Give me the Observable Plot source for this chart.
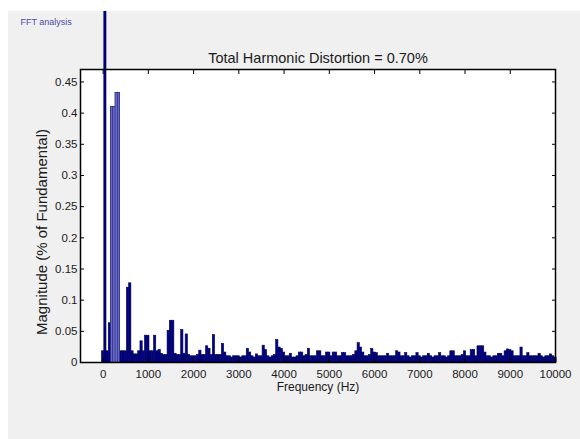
<!DOCTYPE html>
<html>
<head>
<meta charset="utf-8">
<script src="https://cdn.jsdelivr.net/npm/d3@7"></script>
<script src="https://cdn.jsdelivr.net/npm/@observablehq/plot@0.6"></script>
<style>
  html, body { margin: 0; padding: 0; background: #ffffff; }
  #chart { position: absolute; left: 8px; top: 11px; }
</style>
</head>
<body>
<div id="chart"></div>
<script>
// ---- data ----
const windowTitle = "FFT analysis";
const chartTitle = "Total Harmonic Distortion = 0.70%";
const xLabel = "Frequency (Hz)";
const yLabel = "Magnitude (% of Fundamental)";
const fundamentalHz = 50;   // FFT bin spacing = fundamental frequency
// magnitudes (% of fundamental) for bins 0 Hz, 50 Hz, 100 Hz ... 10000 Hz
const magRow0 = [0.018, 100, 0.018, 0.063, 0.41, 0.41, 0.432, 0.432, 0.018, 0.018, 0.018, 0.12, 0.127, 0.018, 0.013, 0.013, 0.018, 0.034, 0.018, 0.043];
const magRow1 = [0.043, 0.018, 0.018, 0.043, 0.018, 0.02, 0.014, 0.012, 0.012, 0.051, 0.067, 0.067, 0.014, 0.012, 0.012, 0.052, 0.014, 0.045, 0.012, 0.01];
const magRow2 = [0.01, 0.01, 0.012, 0.019, 0.012, 0.012, 0.026, 0.022, 0.012, 0.044, 0.012, 0.012, 0.012, 0.03, 0.016, 0.01, 0.01, 0.008, 0.01, 0.01];
const magRow3 = [0.01, 0.008, 0.01, 0.01, 0.022, 0.016, 0.01, 0.008, 0.013, 0.01, 0.01, 0.027, 0.02, 0.01, 0.008, 0.01, 0.012, 0.036, 0.024, 0.022];
const magRow4 = [0.016, 0.01, 0.01, 0.014, 0.008, 0.008, 0.01, 0.016, 0.016, 0.01, 0.012, 0.022, 0.01, 0.01, 0.01, 0.018, 0.018, 0.01, 0.01, 0.016];
const magRow5 = [0.016, 0.01, 0.016, 0.016, 0.01, 0.01, 0.015, 0.015, 0.01, 0.01, 0.01, 0.012, 0.018, 0.031, 0.024, 0.016, 0.01, 0.01, 0.012, 0.022];
const magRow6 = [0.016, 0.015, 0.01, 0.01, 0.01, 0.01, 0.014, 0.01, 0.01, 0.01, 0.018, 0.016, 0.01, 0.01, 0.015, 0.01, 0.008, 0.01, 0.01, 0.015];
const magRow7 = [0.01, 0.008, 0.01, 0.01, 0.014, 0.01, 0.008, 0.01, 0.01, 0.015, 0.01, 0.01, 0.008, 0.01, 0.018, 0.018, 0.01, 0.01, 0.01, 0.012];
const magRow8 = [0.018, 0.01, 0.01, 0.02, 0.02, 0.01, 0.026, 0.026, 0.026, 0.016, 0.01, 0.01, 0.008, 0.01, 0.01, 0.014, 0.014, 0.01, 0.018, 0.021];
const magRow9 = [0.02, 0.018, 0.01, 0.01, 0.01, 0.024, 0.01, 0.01, 0.015, 0.01, 0.01, 0.01, 0.01, 0.014, 0.01, 0.008, 0.01, 0.01, 0.013, 0.01];
const magRow10 = [0.008];
const xTicks = [0, 1000, 2000, 3000, 4000, 5000, 6000, 7000, 8000, 9000, 10000];
const yTicks = [0, 0.05, 0.1, 0.15, 0.2, 0.25, 0.3, 0.35, 0.4, 0.45];
const yTickLabels = ["0", "0.05", "0.1", "0.15", "0.2", "0.25", "0.3", "0.35", "0.4", "0.45"];

// ---- table ----
const mags = [].concat(magRow0, magRow1, magRow2, magRow3, magRow4, magRow5, magRow6, magRow7, magRow8, magRow9, magRow10);
const bins = mags.map((m, i) => ({f: i * fundamentalHz, mag: m}));
const half = fundamentalHz / 2;

const font = "'Liberation Sans', Arial, sans-serif";
const ink = "#1a1a1a";
const chart = Plot.plot({
  width: 572,
  height: 428,
  marginLeft: 72,
  marginRight: 25,
  marginTop: 58,
  marginBottom: 77,
  style: {background: "#f0f0f0", fontFamily: font, fontSize: "11.5px", color: ink, overflow: "hidden"},
  x: {domain: [-500, 10000]},
  y: {domain: [0, 0.47]},
  marks: [
    Plot.frame({fill: "white", stroke: null}),
    Plot.rectY(bins, {x1: d => d.f - half, x2: d => d.f + half, y: "mag", fill: "#000080", stroke: "#00005a", strokeWidth: 0.6}),
    Plot.rectY(bins.filter(d => d.mag > 0.2 && d.mag < 1), {x1: d => d.f - half, x2: d => d.f + half, y: "mag", fill: "#6a6ac4", stroke: "#2a2a8a", strokeWidth: 0.5}),
    Plot.frame({stroke: "#000", strokeWidth: 1.5}),
    Plot.axisX(xTicks, {anchor: "bottom", tickSize: -4, tickPadding: 11, fontSize: 11.5, tickFormat: d => String(d), label: null, stroke: "#000"}),
    Plot.axisX(xTicks, {anchor: "top", tickSize: -4, fill: "none", label: null, stroke: "#000"}),
    Plot.axisY(yTicks, {anchor: "left", tickSize: -4, tickPadding: 7, fontSize: 11.5, tickFormat: (d, i) => yTickLabels[i], label: null, stroke: "#000"}),
    Plot.axisY(yTicks, {anchor: "right", tickSize: -4, fill: "none", label: null, stroke: "#000"}),
    Plot.text([chartTitle], {frameAnchor: "top", dy: -16.5, fontSize: 14.5, fill: ink}),
    Plot.text([xLabel], {frameAnchor: "bottom", dy: 28, fontSize: 12, fill: ink}),
    Plot.text([yLabel], {frameAnchor: "left", textAnchor: "middle", dx: -38, dy: 16, rotate: -90, fontSize: 15, fill: ink}),
    Plot.text([windowTitle], {frameAnchor: "top-left", dx: -60, dy: -51, textAnchor: "start", fontSize: 9, fill: "#4a4aa8"})
  ]
});
document.getElementById("chart").appendChild(chart);
</script>
</body>
</html>
